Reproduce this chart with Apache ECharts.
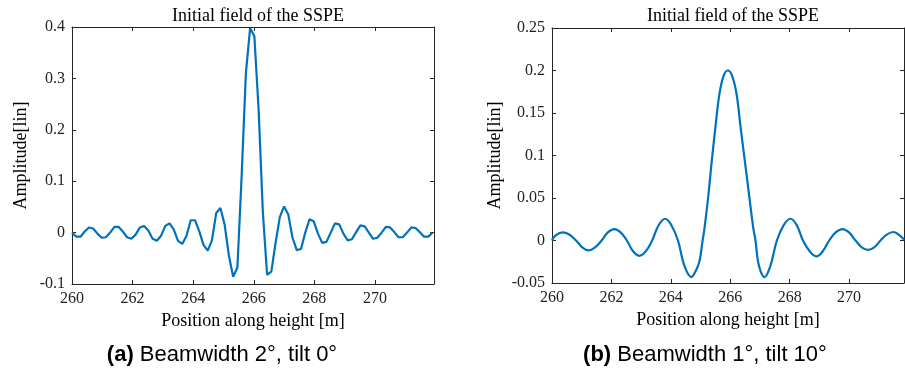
<!DOCTYPE html>
<html>
<head>
<meta charset="utf-8">
<script src="https://cdn.jsdelivr.net/npm/echarts@6/dist/echarts.min.js"></script>
<style>
  html, body { margin: 0; padding: 0; background: #fff; }
  #chart { width: 905px; height: 379px; }
</style>
</head>
<body>
<div id="chart"></div>
<script>
// (a) beamwidth 2 deg, tilt 0 deg - coarse sampling
const leftX = [
  260.00, 260.14, 260.28, 260.42, 260.56, 260.70, 260.84, 260.98, 261.12, 261.26,
  261.40, 261.54, 261.68, 261.82, 261.96, 262.10, 262.24, 262.38, 262.52, 262.66,
  262.80, 262.94, 263.08, 263.22, 263.36, 263.50, 263.64, 263.78, 263.92, 264.06,
  264.20, 264.34, 264.48, 264.62, 264.76, 264.90, 265.04, 265.18, 265.32, 265.46,
  265.60, 265.74, 265.88, 266.02, 266.16, 266.30, 266.44, 266.58, 266.72, 266.86,
  267.00, 267.14, 267.28, 267.42, 267.56, 267.70, 267.84, 267.98, 268.12, 268.26,
  268.40, 268.54, 268.68, 268.82, 268.96, 269.10, 269.24, 269.38, 269.52, 269.66,
  269.80, 269.94, 270.08, 270.22, 270.36, 270.50, 270.64, 270.78, 270.92, 271.06,
  271.20, 271.34, 271.48, 271.62, 271.76, 271.90
];
const leftY = [
  0.000, -0.008, -0.008, 0.002, 0.010, 0.008, -0.002, -0.010, -0.009, 0.000,
  0.011, 0.011, 0.002, -0.009, -0.012, -0.004, 0.010, 0.013, 0.004, -0.012,
  -0.016, -0.006, 0.013, 0.018, 0.006, -0.016, -0.022, -0.006, 0.024, 0.024,
  0.003, -0.024, -0.035, -0.015, 0.038, 0.048, 0.015, -0.045, -0.086, -0.068,
  0.110, 0.310, 0.398, 0.382, 0.240, 0.040, -0.082, -0.076, -0.020, 0.030,
  0.051, 0.035, -0.010, -0.034, -0.032, 0.000, 0.026, 0.022, -0.002, -0.020,
  -0.018, 0.000, 0.018, 0.016, -0.002, -0.015, -0.013, 0.001, 0.014, 0.012,
  0.000, -0.012, -0.010, 0.000, 0.011, 0.010, 0.001, -0.009, -0.009, 0.000,
  0.010, 0.009, 0.001, -0.008, -0.008, 0.000
];

// (b) beamwidth 1 deg, tilt 10 deg - smooth curve
const rightX = [
  260.00, 260.12, 260.36, 260.58, 260.81, 261.02, 261.23, 261.45, 261.67, 261.88,
  262.10, 262.31, 262.52, 262.73, 262.94, 263.15, 263.37, 263.59, 263.81, 264.02,
  264.24, 264.46, 264.69, 264.85, 264.97, 265.07, 265.14, 265.27, 265.38, 265.50,
  265.64, 265.78, 265.92, 266.06, 266.21, 266.35, 266.49, 266.63, 266.77, 266.85,
  266.93, 267.03, 267.15, 267.35, 267.57, 267.80, 268.03, 268.24, 268.45, 268.68,
  268.90, 269.11, 269.33, 269.55, 269.78, 270.00, 270.22, 270.43, 270.64, 270.85,
  271.06, 271.27, 271.49, 271.70, 271.85
];
const rightY = [
  0.000, 0.006, 0.0096, 0.007, 0.000, -0.008, -0.0116, -0.008, 0.000, 0.0095,
  0.0135, 0.0095, 0.000, -0.0127, -0.018, -0.013, 0.000, 0.018, 0.0256, 0.018,
  0.000, -0.030, -0.043, -0.035, -0.0235, 0.000, 0.016, 0.055, 0.094, 0.133,
  0.173, 0.194, 0.200, 0.194, 0.173, 0.133, 0.094, 0.055, 0.016, 0.000,
  -0.0235, -0.037, -0.043, -0.030, 0.000, 0.018, 0.0256, 0.018, 0.000, -0.013,
  -0.0187, -0.013, 0.000, 0.0095, 0.0135, 0.0095, 0.000, -0.008, -0.011, -0.008,
  0.000, 0.007, 0.010, 0.006, 0.001
];

const plotTitle = 'Initial field of the SSPE';
const xName = 'Position along height [m]';
const yName = 'Amplitude[lin]';

const serif = 'Liberation Serif';
const frameColor = '#262626';
const lineColor = '#0072BD';

var chart = echarts.init(document.getElementById('chart'));

// bottom / left axis with labels
function mainX(grid, max) {
  return {
    type: 'value', gridIndex: grid, position: 'bottom',
    min: 260, max: max, interval: 2,
    name: xName, nameLocation: 'middle', nameGap: 26,
    nameTextStyle: { fontFamily: serif, fontSize: 18, color: '#000' },
    axisLine: { show: true, onZero: false, lineStyle: { color: frameColor, width: 1 } },
    axisTick: { show: true, inside: true, length: 4, lineStyle: { color: frameColor } },
    axisLabel: { fontFamily: serif, fontSize: 16, color: '#222', margin: 7, showMaxLabel: false },
    splitLine: { show: false },
  };
}
// top / right mirror axis, ticks only
function boxX(grid, max) {
  return {
    type: 'value', gridIndex: grid, position: 'top',
    min: 260, max: max, interval: 2,
    axisLine: { show: true, onZero: false, lineStyle: { color: frameColor, width: 1 } },
    axisTick: { show: true, inside: true, length: 4, lineStyle: { color: frameColor } },
    axisLabel: { show: false },
    splitLine: { show: false },
  };
}
function mainY(grid, min, max, step, gap) {
  return {
    type: 'value', gridIndex: grid, position: 'left',
    min: min, max: max, interval: step,
    name: yName, nameLocation: 'middle', nameGap: gap,
    nameTextStyle: { fontFamily: serif, fontSize: 18, color: '#000' },
    axisLine: { show: true, onZero: false, lineStyle: { color: frameColor, width: 1 } },
    axisTick: { show: true, inside: true, length: 4, lineStyle: { color: frameColor } },
    axisLabel: { fontFamily: serif, fontSize: 16, color: '#222', margin: 7 },
    splitLine: { show: false },
  };
}
function boxY(grid, min, max, step) {
  return {
    type: 'value', gridIndex: grid, position: 'right',
    min: min, max: max, interval: step,
    axisLine: { show: true, onZero: false, lineStyle: { color: frameColor, width: 1 } },
    axisTick: { show: true, inside: true, length: 4, lineStyle: { color: frameColor } },
    axisLabel: { show: false },
    splitLine: { show: false },
  };
}

const option = {
  animation: false,
  backgroundColor: '#fff',
  title: [
    {
      text: plotTitle, left: 253, top: 2, textAlign: 'center',
      textStyle: { fontFamily: serif, fontSize: 18, fontWeight: 'normal', color: '#000' },
    },
    {
      text: plotTitle, left: 728, top: 2, textAlign: 'center',
      textStyle: { fontFamily: serif, fontSize: 18, fontWeight: 'normal', color: '#000' },
    },
    {
      text: '{b|(a)} Beamwidth 2°, tilt 0°', left: 217, top: 339, textAlign: 'center',
      textStyle: {
        fontFamily: 'Liberation Sans', fontSize: 22, fontWeight: 'normal', color: '#000',
        rich: { b: { fontFamily: 'Liberation Sans', fontSize: 22, fontWeight: 'bold', color: '#000' } },
      },
    },
    {
      text: '{b|(b)} Beamwidth 1°, tilt 10°', left: 700, top: 339, textAlign: 'center',
      textStyle: {
        fontFamily: 'Liberation Sans', fontSize: 22, fontWeight: 'normal', color: '#000',
        rich: { b: { fontFamily: 'Liberation Sans', fontSize: 22, fontWeight: 'bold', color: '#000' } },
      },
    },
  ],
  grid: [
    { left: 72, top: 27, width: 362, height: 257 },
    { left: 552, top: 28, width: 352, height: 255 },
  ],
  xAxis: [
    mainX(0, 271.95),
    boxX(0, 271.95),
    mainX(1, 271.85),
    boxX(1, 271.85),
  ],
  yAxis: [
    mainY(0, -0.1, 0.4, 0.1, 42),
    boxY(0, -0.1, 0.4, 0.1),
    mainY(1, -0.05, 0.25, 0.05, 48),
    boxY(1, -0.05, 0.25, 0.05),
  ],
  series: [
    {
      type: 'line', xAxisIndex: 0, yAxisIndex: 0,
      showSymbol: false, smooth: false,
      lineStyle: { color: lineColor, width: 2.2 },
      data: leftX.map((x, i) => [x, leftY[i]]),
    },
    {
      type: 'line', xAxisIndex: 2, yAxisIndex: 2,
      showSymbol: false, smooth: 0.4,
      lineStyle: { color: lineColor, width: 2.2 },
      data: rightX.map((x, i) => [x, rightY[i]]),
    },
  ],
};

chart.setOption(option);
</script>
</body>
</html>
